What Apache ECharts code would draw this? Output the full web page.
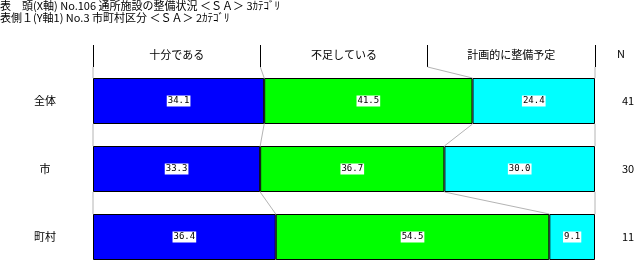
<!DOCTYPE html>
<html><head><meta charset="utf-8">
<script src="https://cdn.jsdelivr.net/npm/echarts@6/dist/echarts.min.js"></script>
<style>html,body{margin:0;padding:0;background:#fff}#c{width:635px;height:261px}</style>
</head><body><div id="c"></div>
<script>
const titleLines = ['表　頭(X軸) No.106 通所施設の整備状況 ＜ＳＡ＞ 3ｶﾃｺﾞﾘ', '表側１(Y軸1) No.3 市町村区分 ＜ＳＡ＞ 2ｶﾃｺﾞﾘ'];
const categories = ['全体', '市', '町村'];
const nValues = [41, 30, 11];
const seriesNames = ['十分である', '不足している', '計画的に整備予定'];
const juubun = [34.1, 33.3, 36.4];
const fusoku = [41.5, 36.7, 54.5];
const keikaku = [24.4, 30.0, 9.1];
const colors = ['#0000ff', '#00ff00', '#00ffff'];

const rows = categories.map((c, i) => [juubun[i], fusoku[i], keikaku[i]]);
function cumul(vals) { const out = [0]; let s = 0; vals.forEach(v => { s += v; out.push(s); }); return out; }
const headerBounds = seriesNames.map((_, i) => 100 * i / seriesNames.length).concat([100]);

const chart = echarts.init(document.getElementById('c'), null, {renderer: 'canvas'});
const font = '"Noto Sans CJK JP", sans-serif';
const BAR = 46;

const barSeries = [juubun, fusoku, keikaku].map((d, i) => ({
  type: 'bar', name: seriesNames[i], stack: 'all', data: d, barWidth: BAR,
  xAxisIndex: 0, yAxisIndex: 0,
  itemStyle: {color: colors[i], borderColor: '#000', borderWidth: 1},
  label: {show: true, position: 'inside', formatter: p => p.value.toFixed(1),
    color: '#000', backgroundColor: '#fff', fontSize: 9, fontFamily: '"DejaVu Sans Mono", monospace',
    padding: [1, 1, 0, 1], lineHeight: 10}
}));

const connector = {
  type: 'custom', xAxisIndex: 0, yAxisIndex: 0, silent: true, z: 1,
  data: categories.map((c, i) => [i]),
  renderItem: function (params, api) {
    const k = api.value(0);
    const band = api.size([0, 1])[1];
    const lower = cumul(rows[k]);
    const upper = k === 0 ? headerBounds : cumul(rows[k - 1]);
    const children = [];
    for (let j = 0; j < lower.length; j++) {
      const pLow = api.coord([lower[j], k]);
      const yLow = pLow[1] - BAR / 2;
      let pUp, yUp;
      if (k === 0) { pUp = api.coord([upper[j], 0]); yUp = pUp[1] - band / 2; }
      else { pUp = api.coord([upper[j], k - 1]); yUp = pUp[1] + BAR / 2; }
      children.push({type: 'line', shape: {x1: pUp[0], y1: yUp, x2: pLow[0], y2: yLow},
        style: {stroke: '#b4b4b4', lineWidth: 1}});
    }
    return {type: 'group', children: children};
  }
};

chart.setOption({
  animation: false,
  backgroundColor: '#fff',
  title: [
    {text: titleLines.join('\n'), left: 0, top: 0, padding: 0,
      textStyle: {fontSize: 11, fontWeight: 'normal', color: '#000', fontFamily: font, lineHeight: 12}},
    {text: 'N', left: 617, top: 48, padding: 0,
      textStyle: {fontSize: 11, fontWeight: 'normal', color: '#000', fontFamily: font}}
  ],
  grid: {left: 93, top: 67, width: 502, height: 204, containLabel: false, outerBoundsMode: 'none'},
  xAxis: [
    {type: 'value', min: 0, max: 100, show: false},
    {type: 'category', position: 'top', data: seriesNames, boundaryGap: true,
      axisLine: {show: false}, axisTick: {show: true, length: 22, lineStyle: {color: '#000', width: 1}},
      axisLabel: {margin: 7, color: '#000', fontSize: 11, fontFamily: font}, splitLine: {show: false}}
  ],
  yAxis: [
    {type: 'category', inverse: true, data: categories,
      axisLine: {show: false}, axisTick: {show: false},
      axisLabel: {align: 'center', margin: 48, color: '#000', fontSize: 11, fontFamily: font}},
    {type: 'category', inverse: true, position: 'right', data: nValues,
      axisLine: {show: false}, axisTick: {show: false},
      axisLabel: {align: 'left', margin: 27, color: '#000', fontSize: 11, fontFamily: font}}
  ],
  series: barSeries.concat([connector])
});
</script></body></html>
